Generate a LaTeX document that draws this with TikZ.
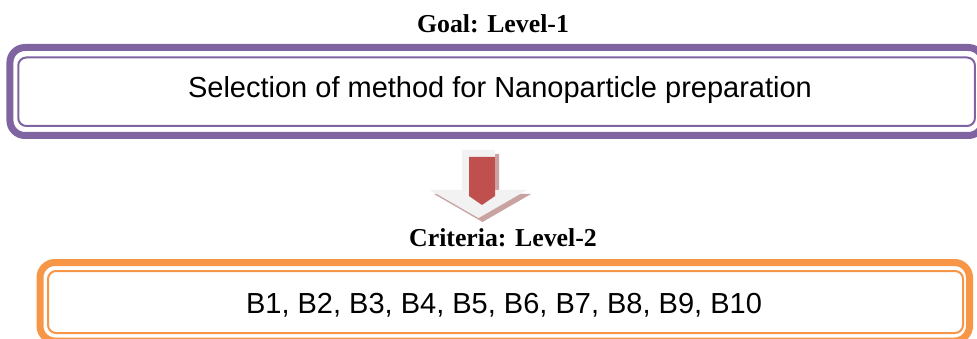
\documentclass[tikz,border=0pt]{standalone}
\usepackage{fontspec}
\setmainfont{Liberation Serif}
\setsansfont{Liberation Sans}
\definecolor{purp}{HTML}{8064A2}
\definecolor{orng}{HTML}{F79646}
\definecolor{redarrow}{HTML}{C0504D}
\definecolor{greyarrow}{HTML}{F2F2F2}
\definecolor{shadowarrow}{HTML}{C9A3A2}
\begin{document}
\begin{tikzpicture}[x=1pt,y=-1pt,
  thinframe/.style={draw=#1, line width=2pt, rounded corners=8pt, inner sep=0pt},
  thickframe/.style={draw=#1, line width=7pt, rounded corners=15pt},
  headlabel/.style={anchor=base, inner sep=0pt, font=\bfseries\fontsize{25.8}{30}\selectfont},
  boxlabel/.style={anchor=base, inner sep=0pt, font=\sffamily\fontsize{29}{34}\selectfont}]
\useasboundingbox (0,0) rectangle (977,339);
\clip (0,0) rectangle (977,339);
% Level 1
\node[headlabel] (goal) at (493,33) {Goal: Level-1};
\node[thinframe=purp, minimum width=956.7pt, minimum height=68.5pt] (goalbox) at (496.6,91.75) {};
\draw[thickframe=purp] ([shift={(-7.3,-9)}]goalbox.north west) rectangle ([shift={(7.3,8.5)}]goalbox.south east);
\node[boxlabel] (sel) at (500,98) {Selection of method for Nanoparticle preparation};
% Arrow
\fill[shadowarrow, shift={(4,4)}] (462,150) -- (495,150) -- (495,190) -- (527,190) -- (478.5,218) -- (430,190) -- (462,190) -- cycle;
\fill[greyarrow] (462,150) -- (495,150) -- (495,190) -- (527,190) -- (478.5,218) -- (430,190) -- (462,190) -- cycle;
\fill[redarrow] (469,157) -- (495,157) -- (495,196) -- (482,205) -- (469,196) -- cycle;
% Level 2
\node[headlabel] (crit) at (503,247) {Criteria: Level-2};
\node[thinframe=orng, minimum width=915pt, minimum height=62pt] (critbox) at (505.5,302) {};
\draw[thickframe=orng] ([shift={(-7,-7.5)}]critbox.north west) rectangle ([shift={(5.5,7)}]critbox.south east);
\node[boxlabel] (blist) at (504,313) {B1, B2, B3, B4, B5, B6, B7, B8, B9, B10};
\end{tikzpicture}
\end{document}
